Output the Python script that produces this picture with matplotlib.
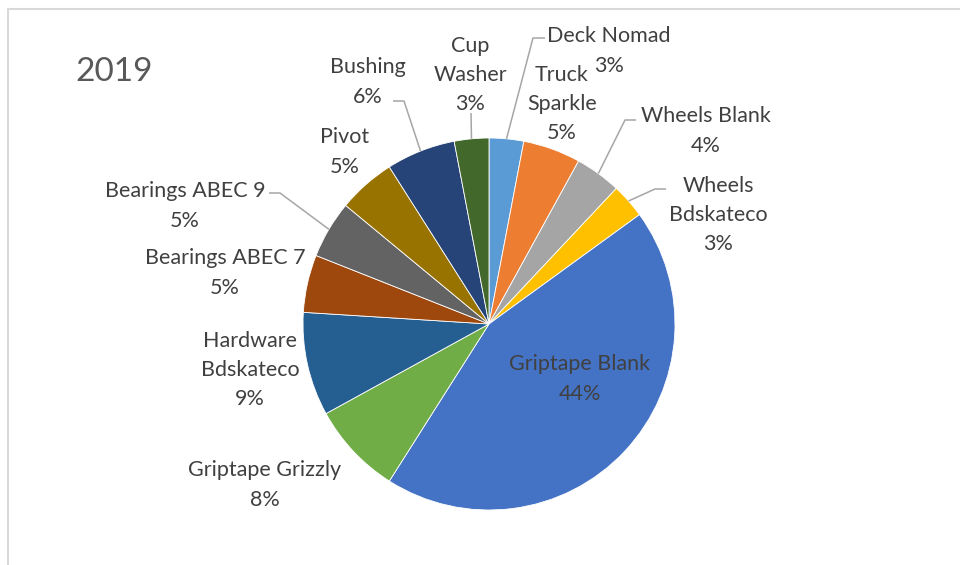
import numpy as np
import matplotlib

matplotlib.use("Agg")
import matplotlib.pyplot as plt

W, H = 960, 565

# pie data, clockwise from 12 o'clock
categories = [
    "Deck Nomad", "Truck\nSparkle", "Wheels Blank", "Wheels\nBdskateco",
    "Griptape Blank", "Griptape Grizzly", "Hardware\nBdskateco",
    "Bearings ABEC 7", "Bearings ABEC 9", "Pivot", "Bushing", "Cup\nWasher",
]
shares = [3, 5, 4, 3, 44, 8, 9, 5, 5, 5, 6, 3]
colors = [
    "#5B9BD5", "#ED7D31", "#A5A5A5", "#FFC000", "#4472C4", "#70AD47",
    "#255E91", "#9E480E", "#636363", "#997300", "#264478", "#43682B",
]
title = "2019"

# label centres in pixel space (y measured from the top)
label_pos = [
    (609, 51), (562, 104), (706, 131), (718, 215),
    (580, 379), (265, 485), (250, 370), (225, 273),
    (185, 206), (345, 152), (368, 82), (470, 75),
]
# leader lines: elbow point and end point next to the text
leaders = {
    0: ((533, 38), (545, 38)),
    2: ((625, 120), (636, 120)),
    3: ((655, 189), (666, 189)),
    8: ((280, 193), (269, 193)),
    10: ((404, 101), (393, 101)),
    11: ((471, 113), (471, 113)),
}

cx, cy, radius = 489, 324, 186
text_color = "#404040"
font = ["Lato", "DejaVu Sans"]


def fy(y):
    return H - y


fig = plt.figure(figsize=(W / 100, H / 100), dpi=100)
ax = fig.add_axes([0, 0, 1, 1])

ax.pie(
    shares,
    colors=colors,
    startangle=90,
    counterclock=False,
    center=(cx, fy(cy)),
    radius=radius,
    wedgeprops=dict(edgecolor="white", linewidth=0.6),
    frame=True,
)
ax.set_xlim(0, W)
ax.set_ylim(0, H)
ax.axis("off")

total = sum(shares)
cum = np.cumsum([0] + shares)
for i, (name, val) in enumerate(zip(categories, shares)):
    x, y = label_pos[i]
    ax.text(x, fy(y), f"{name}\n{val / total:.0%}", ha="center", va="center",
            fontsize=15.5, color=text_color, family=font, linespacing=1.58)
    if i in leaders:
        mid = (cum[i] + val / 2) / total * 2 * np.pi
        sx = cx + radius * np.sin(mid)
        sy = cy - radius * np.cos(mid)
        (ex, ey), (tx, ty) = leaders[i]
        ax.plot([sx, ex, tx], [fy(sy), fy(ey), fy(ty)], color="#A6A6A6",
                lw=1.1, solid_capstyle="butt")

ax.text(75, fy(72), title, ha="left", va="center", fontsize=24,
        color="#595959", family=font)

# chart frame (top and left edges visible)
ax.plot([7.5, 7.5, W], [0, fy(8.5), fy(8.5)], color="#D9D9D9", lw=1.5)

fig.savefig("out.png", dpi=100)
